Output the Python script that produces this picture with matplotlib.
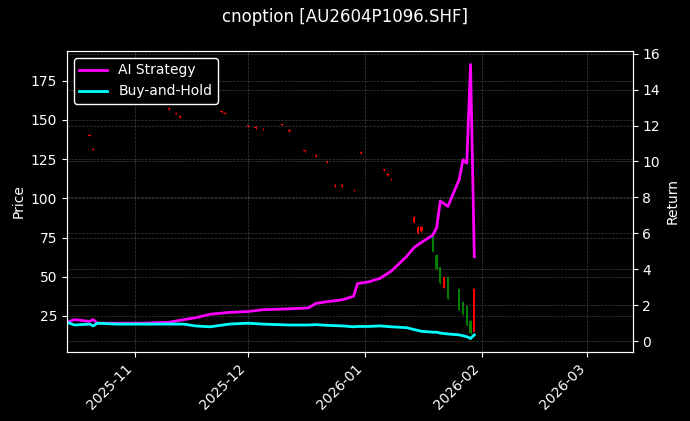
import matplotlib
matplotlib.use("Agg")
import matplotlib.pyplot as plt
import matplotlib.dates as mdates
import pandas as pd
import numpy as np

plt.style.use("dark_background")

# equity curves (return axis)
curve_dates = ["2025-10-14", "2025-10-16", "2025-10-20", "2025-10-21", "2025-10-22", "2025-10-27",
               "2025-11-03", "2025-11-10", "2025-11-14", "2025-11-17", "2025-11-21", "2025-11-26",
               "2025-12-01", "2025-12-05", "2025-12-12", "2025-12-17", "2025-12-19", "2025-12-22",
               "2025-12-26", "2025-12-29", "2025-12-30", "2026-01-02", "2026-01-05", "2026-01-08",
               "2026-01-12", "2026-01-14", "2026-01-16", "2026-01-19", "2026-01-20", "2026-01-21",
               "2026-01-23", "2026-01-26", "2026-01-27", "2026-01-28", "2026-01-29", "2026-01-30"]
ai_strategy = [1.05, 1.2, 1.1, 1.2, 1.0, 1.0,
               1.0, 1.05, 1.2, 1.3, 1.5, 1.6,
               1.65, 1.75, 1.8, 1.85, 2.1, 2.2,
               2.3, 2.5, 3.2, 3.3, 3.5, 3.9,
               4.7, 5.2, 5.5, 5.9, 6.3, 7.8,
               7.5, 9.0, 10.1, 9.9, 15.4, 4.7]
buy_hold = [1.05, 0.9, 0.95, 0.85, 1.0, 0.95,
            0.95, 0.95, 0.95, 0.85, 0.8, 0.95,
            1.0, 0.95, 0.9, 0.9, 0.92, 0.88,
            0.85, 0.8, 0.82, 0.82, 0.85, 0.8,
            0.75, 0.65, 0.55, 0.5, 0.5, 0.45,
            0.4, 0.35, 0.3, 0.25, 0.15, 0.35]

# candles (price axis)
candle_dates = ["2025-10-14", "2025-10-20", "2025-10-21", "2025-11-10", "2025-11-12", "2025-11-13",
                "2025-11-24", "2025-11-25", "2025-12-01", "2025-12-03", "2025-12-05", "2025-12-10",
                "2025-12-12", "2025-12-16", "2025-12-19", "2025-12-22", "2025-12-24", "2025-12-26",
                "2025-12-29", "2025-12-31", "2026-01-06", "2026-01-07", "2026-01-08", "2026-01-14",
                "2026-01-15", "2026-01-16", "2026-01-19", "2026-01-20", "2026-01-21", "2026-01-22",
                "2026-01-23", "2026-01-26", "2026-01-27", "2026-01-28", "2026-01-29", "2026-01-30"]
opens = [131, 140, 131, 157, 154, 152, 155, 154, 146, 145, 144, 147,
         143, 130, 127, 123, 108, 108, 105, 129, 118, 115, 112, 85,
         78, 79, 76, 64, 56, 43, 50, 42, 34, 31, 22, 15]
closes = [131.5, 140.5, 131.5, 157.5, 154.5, 152.5, 155.5, 154.5, 146.5, 145.5, 144.5, 147.5,
          143.5, 130.5, 127.5, 123.5, 108.5, 108.5, 105.5, 129.5, 118.5, 115.5, 112.5, 88,
          82, 82, 66, 55, 46, 50, 36, 29, 26, 19, 14, 42]
highs = [max(o, c) + 0.5 for o, c in zip(opens, closes)]
lows = [min(o, c) - 0.5 for o, c in zip(opens, closes)]

cd = pd.to_datetime(curve_dates)
kd = pd.to_datetime(candle_dates)

fig, ax = plt.subplots(figsize=(6.9, 4.21), dpi=100)
fig.patch.set_facecolor("black")
ax.set_facecolor("black")

for d, o, c, h, l in zip(kd, opens, closes, highs, lows):
    col = "red" if c >= o else "green"
    ax.vlines(d, l, h, color=col, linewidth=0.8)
    ax.bar(d, abs(c - o), bottom=min(o, c), width=0.6, color=col, linewidth=0)

ax.set_ylim(2, 194)
ax.set_ylabel("Price")
ax.grid(True, linestyle="--", linewidth=0.5, color="gray", alpha=0.5)

ax2 = ax.twinx()
ax2.plot(cd, ai_strategy, color="magenta", linewidth=2, label="AI Strategy")
ax2.plot(cd, buy_hold, color="cyan", linewidth=2, label="Buy-and-Hold")
ax2.set_ylim(-0.6, 16.15)
ax2.set_ylabel("Return")
ax2.grid(True, linestyle="--", linewidth=0.5, color="gray", alpha=0.5)
ax2.legend(loc="upper left", facecolor="black", edgecolor="white", framealpha=1)

ax.set_xlim(pd.Timestamp("2025-10-14"), pd.Timestamp("2026-03-13"))
ax.xaxis.set_major_locator(mdates.MonthLocator())
ax.xaxis.set_major_formatter(mdates.DateFormatter("%Y-%m"))
plt.setp(ax.get_xticklabels(), rotation=45, ha="right")

fig.suptitle("cnoption [AU2604P1096.SHF]")
fig.subplots_adjust(left=0.097, right=0.917, top=0.879, bottom=0.164)
fig.savefig("out.png", dpi=100, facecolor="black")
